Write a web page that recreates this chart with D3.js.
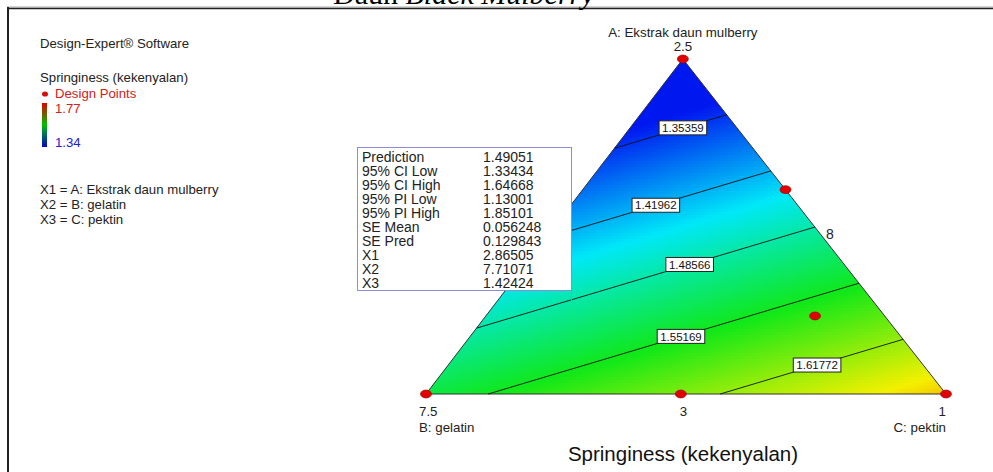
<!DOCTYPE html>
<html>
<head>
<meta charset="utf-8">
<script src="https://cdn.jsdelivr.net/npm/d3@7"></script>
<style>
  html, body { margin: 0; padding: 0; background: #fff; }
  svg { display: block; }
  text { font-family: "Liberation Sans", Arial, sans-serif; }
</style>
</head>
<body>
<svg id="chart" width="993" height="472"></svg>
<script>
// ---- data ----------------------------------------------------------------
// Fitted linear mixture model (pseudo-component coefficients for A, B, C)
const components = ["A", "B", "C"];
const modelCoef = [1.288, 1.534, 1.682];

// Contour levels shown on the surface
const contourLevels = [1.35359, 1.41962, 1.48566, 1.55169, 1.61772];

// Design points in pseudo-component proportions
const designA = [1.00, 0.00, 0.00, 0.00, 0.61, 0.233];
const designB = [0.00, 1.00, 0.00, 0.51, 0.00, 0.134];
const designC = [0.00, 0.00, 1.00, 0.49, 0.39, 0.633];

// Vertex / edge tick labels
const vertexTicks = ["2.5", "7.5", "1"];
const edgeTicks = ["3", "8"];
const vertexNames = ["A: Ekstrak daun mulberry", "B: gelatin", "C: pektin"];

// Legend colour range of the response
const responseRange = [1.34, 1.77];

// Prediction read-out
const infoLabels = ["Prediction", "95% CI Low", "95% CI High", "95% PI Low", "95% PI High",
                    "SE Mean", "SE Pred", "X1", "X2", "X3"];
const infoValues = ["1.49051", "1.33434", "1.64668", "1.13001", "1.85101",
                    "0.056248", "0.129843", "2.86505", "7.71071", "1.42424"];

const factorLines = ["X1 = A: Ekstrak daun mulberry", "X2 = B: gelatin", "X3 = C: pektin"];

// ---- layout ----------------------------------------------------------------
const svg = d3.select("#chart");

// horizontal position u (0 = B vertex, 1 = C vertex), vertical = proportion of A
const apexU = 0.494;
const xs = d3.scaleLinear().domain([0, 1]).range([426, 946]);
const ys = d3.scaleLinear().domain([0, 1]).range([394, 59]);
const toXY = (a, b, c) => [xs(c + a * apexU), ys(a)];
const model = (a, b, c) => modelCoef[0] * a + modelCoef[1] * b + modelCoef[2] * c;

const color = d3.scaleLinear()
  .domain(d3.range(5).map(i => responseRange[0] + i * (responseRange[1] - responseRange[0]) / 4))
  .range(["#0018f0", "#00e8f8", "#10e818", "#f4f000", "#f00000"])
  .clamp(true);

// ---- frame & title ----------------------------------------------------------
svg.append("line").attr("x1", 7).attr("x2", 993).attr("y1", 7).attr("y2", 7)
  .attr("stroke", "#aaa").attr("stroke-width", 1);
svg.append("line").attr("x1", 7).attr("x2", 993).attr("y1", 8.5).attr("y2", 8.5)
  .attr("stroke", "#222").attr("stroke-width", 1.5);
svg.append("line").attr("x1", 8).attr("x2", 8).attr("y1", 7).attr("y2", 472)
  .attr("stroke", "#222").attr("stroke-width", 2);

const title = svg.append("text").attr("x", 333).attr("y", 4)
  .style("font-family", '"Liberation Serif", "Times New Roman", serif')
  .style("font-size", "30px").attr("fill", "#000");
title.append("tspan").text("Daun ");
title.append("tspan").style("font-style", "italic").text("Black Mulberry");

// ---- surface ----------------------------------------------------------------
const V = [toXY(1, 0, 0), toXY(0, 1, 0), toXY(0, 0, 1)];
svg.append("clipPath").attr("id", "tri")
  .append("path").attr("d", "M" + V.map(p => p.join(",")).join("L") + "Z");

const cell = 3;
const cells = [];
for (let py = 59; py < 395; py += cell) {
  for (let px = 426; px < 947; px += cell) {
    const a = ys.invert(py + cell / 2);
    const u = xs.invert(px + cell / 2);
    const c = u - a * apexU;
    const b = 1 - a - c;
    if (a < -0.02 || b < -0.02 || c < -0.02) continue;
    cells.push({ px, py, v: model(a, b, c) });
  }
}
const surf = svg.append("g").attr("clip-path", "url(#tri)");
surf.selectAll("rect").data(cells).join("rect")
  .attr("x", d => d.px).attr("y", d => d.py)
  .attr("width", cell + 0.5).attr("height", cell + 0.5)
  .attr("fill", d => color(d.v));

// triangle outline
svg.append("path").attr("d", "M" + V.map(p => p.join(",")).join("L") + "Z")
  .attr("fill", "none").attr("stroke", "#333").attr("stroke-width", 1);

// ---- contours ----------------------------------------------------------------
const verts = [[1, 0, 0], [0, 1, 0], [0, 0, 1]];
const vVals = verts.map(v => model(...v));
function contourEnds(level) {
  const pts = [];
  [[0, 1], [0, 2], [1, 2]].forEach(([i, j]) => {
    const vi = vVals[i], vj = vVals[j];
    if ((level - vi) * (level - vj) <= 0 && vi !== vj) {
      const t = (level - vi) / (vj - vi);
      const p = verts[i].map((x, k) => x + t * (verts[j][k] - x));
      pts.push(toXY(...p));
    }
  });
  return pts.sort((p, q) => p[0] - q[0]);
}
const labelT = [0.61, 0.49, 0.63, 0.52, 0.53];
const cg = svg.append("g");
contourLevels.forEach((lv, i) => {
  const [p0, p1] = contourEnds(lv);
  cg.append("line").attr("x1", p0[0]).attr("y1", p0[1]).attr("x2", p1[0]).attr("y2", p1[1])
    .attr("stroke", "#111").attr("stroke-width", 0.9);
  const t = labelT[i];
  const lx = p0[0] + t * (p1[0] - p0[0]), ly = p0[1] + t * (p1[1] - p0[1]);
  const lab = cg.append("g").attr("transform", `translate(${lx},${ly})`);
  const txt = lab.append("text").attr("text-anchor", "middle").attr("dy", "0.36em")
    .style("font-size", "11.5px").attr("fill", "#111").text(lv.toFixed(5));
  const w = txt.node().getComputedTextLength() + 6;
  lab.insert("rect", "text").attr("x", -w / 2).attr("y", -7).attr("width", w).attr("height", 14)
    .attr("fill", "#fff").attr("stroke", "#222").attr("stroke-width", 1);
});

// ---- design points ------------------------------------------------------------
const pts = designA.map((a, i) => toXY(a, designB[i], designC[i]));
svg.append("g").selectAll("ellipse").data(pts).join("ellipse")
  .attr("cx", d => d[0]).attr("cy", d => d[1]).attr("rx", 5.5).attr("ry", 4)
  .attr("fill", "#e00000").attr("stroke", "#900").attr("stroke-width", 0.6);

// ---- axis labels ----------------------------------------------------------------
const lab = svg.append("g").style("font-size", "13.3px").attr("fill", "#222");
lab.append("text").attr("x", V[0][0]).attr("y", 37).attr("text-anchor", "middle").text(vertexNames[0]);
lab.append("text").attr("x", V[0][0]).attr("y", 51).attr("text-anchor", "middle").text(vertexTicks[0]);
lab.append("text").attr("x", V[1][0] - 7).attr("y", 416).text(vertexTicks[1]);
lab.append("text").attr("x", V[1][0] - 7).attr("y", 432).text(vertexNames[1]);
lab.append("text").attr("x", V[2][0]).attr("y", 416).attr("text-anchor", "end").text(vertexTicks[2]);
lab.append("text").attr("x", V[2][0]).attr("y", 432).attr("text-anchor", "end").text(vertexNames[2]);
const mid = toXY(0, 0.505, 0.495);
lab.append("text").attr("x", mid[0]).attr("y", 416).attr("text-anchor", "middle").text(edgeTicks[0]);
lab.append("text").attr("x", 826).attr("y", 239).style("font-size", "14px").text(edgeTicks[1]);
svg.append("text").attr("x", 683).attr("y", 461).attr("text-anchor", "middle")
  .style("font-size", "20.5px").attr("fill", "#111").text("Springiness (kekenyalan)");

// ---- info box ----------------------------------------------------------------------
const box = svg.append("g");
box.append("rect").attr("x", 357.5).attr("y", 147.5).attr("width", 214).attr("height", 143)
  .attr("fill", "#fff").attr("stroke", "#8c8cd8").attr("stroke-width", 1);
box.append("line").attr("x1", 571.5).attr("x2", 571.5).attr("y1", 290.5).attr("y2", 303)
  .attr("stroke", "#8c8cd8").attr("stroke-width", 1);
infoLabels.forEach((t, i) => {
  box.append("text").attr("x", 362).attr("y", 162 + i * 14).style("font-size", "14px")
    .attr("fill", "#222").text(t);
  box.append("text").attr("x", 483).attr("y", 162 + i * 14).style("font-size", "14px")
    .attr("fill", "#222").text(infoValues[i]);
});

// ---- legend --------------------------------------------------------------------------
const leg = svg.append("g").style("font-size", "13.2px");
leg.append("text").attr("x", 40).attr("y", 48).attr("fill", "#222").text("Design-Expert\u00ae Software");
leg.append("text").attr("x", 40).attr("y", 82).attr("fill", "#222").text("Springiness (kekenyalan)");
leg.append("ellipse").attr("cx", 45).attr("cy", 94).attr("rx", 3).attr("ry", 2.6).attr("fill", "#d01010");
leg.append("text").attr("x", 55).attr("y", 98).attr("fill", "#d02020").text("Design Points");
const grad = svg.append("defs").append("linearGradient").attr("id", "bar")
  .attr("x1", 0).attr("x2", 0).attr("y1", 0).attr("y2", 1);
[["0%", "#e00000"], ["50%", "#00c000"], ["100%", "#0000d0"]].forEach(([o, c]) =>
  grad.append("stop").attr("offset", o).attr("stop-color", c));
leg.append("rect").attr("x", 42).attr("y", 103).attr("width", 5).attr("height", 44)
  .attr("fill", "url(#bar)");
leg.append("text").attr("x", 55).attr("y", 113).attr("fill", "#d02020").text(responseRange[1].toFixed(2));
leg.append("text").attr("x", 55).attr("y", 147).attr("fill", "#2020d0").text(responseRange[0].toFixed(2));
factorLines.forEach((t, i) => {
  leg.append("text").attr("x", 40).attr("y", 194 + i * 15).attr("fill", "#222").text(t);
});
</script>
</body>
</html>
